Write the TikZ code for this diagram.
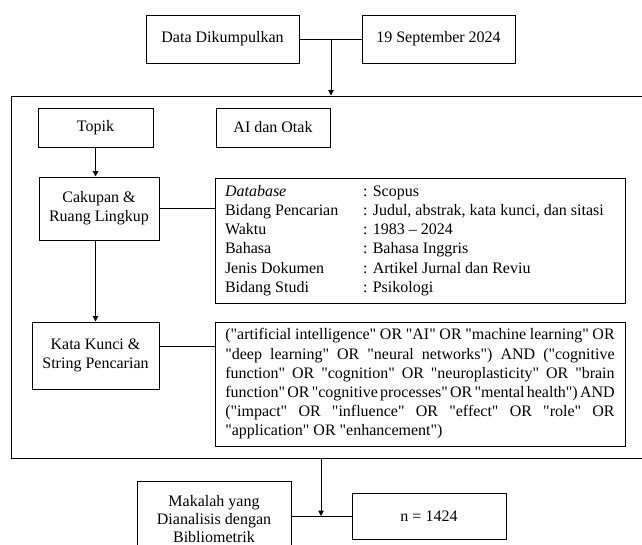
\documentclass[tikz,border=0pt]{standalone}
\usepackage{fontspec}
\setmainfont{Liberation Serif}[Ligatures=TeXOff]
\usetikzlibrary{arrows.meta,calc}
\begin{document}
\begin{tikzpicture}[x=0.75pt,y=-0.75pt,
  box/.style={draw=black, line width=0.75pt, inner sep=0pt, align=center, font=\fontsize{12}{14.2}\selectfont},
  arr/.style={-{Triangle[length=4pt,width=4pt]}, line width=0.75pt},
  ln/.style={line width=0.75pt}]
\useasboundingbox (0,0) rectangle (642,544);
% outer frame (right side falls outside the picture)
\node[box, minimum width=476.25pt, minimum height=271.5pt] (frame) at (328.5,277) {};
% top
\node[box, minimum width=114.75pt, minimum height=36pt] (data) at (222.5,39) {Data Dikumpulkan};
\node[box, minimum width=114.75pt, minimum height=36pt] (sep) at (438.5,39) {19 September 2024};
\coordinate (jt) at (331,39);
\draw[ln] (data.east) -- (sep.west);
\draw[arr] (jt) -- (jt |- frame.north);
% inside frame
\node[box, minimum width=86.25pt, minimum height=29.25pt] (topik) at (95.5,127.5) {Topik};
\node[box, minimum width=85.5pt, minimum height=29.25pt] (ai) at (273,127.5) {AI dan Otak};
\node[box, minimum width=90pt, minimum height=47.25pt] (cak) at (99,208.5) {Cakupan \&\\Ruang Lingkup};
\node[box, minimum width=95.25pt, minimum height=50.25pt] (kata) at (95.5,355.5) {Kata Kunci \&\\String Pencarian};
\node[box, minimum width=307.5pt, minimum height=93.75pt] (db) at (420,240.5) {\raisebox{-1.5pt}{\parbox{292.5pt}{\fontsize{12}{14.4}\selectfont\raggedright
\makebox[103.5pt][l]{\textit{Database}}: Scopus\\
\makebox[103.5pt][l]{Bidang Pencarian}: Judul, abstrak, kata kunci, dan sitasi\\
\makebox[103.5pt][l]{Waktu}: 1983 – 2024\\
\makebox[103.5pt][l]{Bahasa}: Bahasa Inggris\\
\makebox[103.5pt][l]{Jenis Dokumen}: Artikel Jurnal dan Reviu\\
\makebox[103.5pt][l]{Bidang Studi}: Psikologi}}};
\node[box, minimum width=307.5pt, minimum height=93pt] (query) at (420,384) {\raisebox{-3pt}{\parbox{292pt}{\fontsize{12}{14.4}\selectfont
\hyphenpenalty=10000 \exhyphenpenalty=10000 \tolerance=10000
\spaceskip=0.25em plus 2em minus 0.15em
("artificial intelligence" OR "AI" OR "machine learning" OR\linebreak
"deep learning" OR "neural networks") AND ("cognitive\linebreak
function" OR "cognition" OR "neuroplasticity" OR "brain\linebreak
function" OR "cognitive processes" OR "mental health") AND\linebreak
("impact" OR "influence" OR "effect" OR "role" OR\linebreak
"application" OR "enhancement")}}};
\draw[arr] (topik.south) -- (topik.south |- cak.north);
\draw[arr] (topik.south |- cak.south) -- (topik.south |- kata.north);
\draw[ln] (cak.east) -- (cak.east -| db.west);
\draw[ln] ([yshift=7.1pt]kata.east) coordinate (k1) -- (k1 -| query.west);
% bottom
\node[box, minimum width=115.5pt, minimum height=57pt, font=\fontsize{12}{13.5}\selectfont] (mak) at (214,519) {Makalah yang\\Dianalisis dengan\\Bibliometrik};
\node[box, minimum width=115.5pt, minimum height=34.5pt] (n) at (429,516) {n = 1424};
\coordinate (jb) at (321,516);
\draw[ln] (mak.east |- n.west) -- (n.west);
\draw[arr] (jb |- frame.south) -- (jb);
\end{tikzpicture}
\end{document}
